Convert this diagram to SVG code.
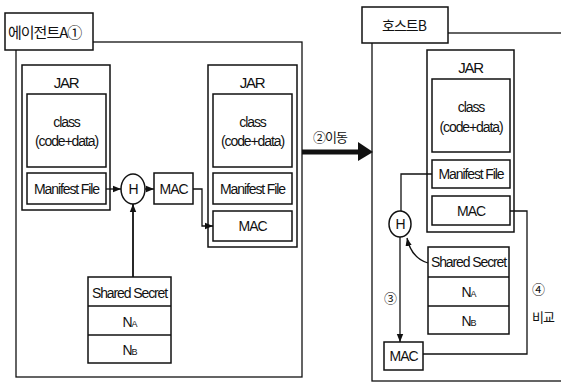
<svg xmlns="http://www.w3.org/2000/svg" width="561" height="385" viewBox="0 0 561 385">
<defs>
<marker id="ah" viewBox="0 0 10 10" refX="10" refY="5" markerWidth="8" markerHeight="8" markerUnits="userSpaceOnUse" orient="auto"><path d="M0,1 L10,5 L0,9 z" fill="#111"/></marker>
</defs>
<style>
.bx{fill:#fff;stroke:#111;stroke-width:1.5}
.fr{fill:none;stroke:#111;stroke-width:1.3}
.t{font-family:"Liberation Sans",Arial,sans-serif;font-size:14px;letter-spacing:-1.1px;fill:#111;text-anchor:middle}
.j{font-family:"Liberation Sans",Arial,sans-serif;font-size:15px;letter-spacing:-1.2px;fill:#111;text-anchor:middle}
.k{font-family:"Noto Sans CJK KR",sans-serif;font-size:14px;letter-spacing:-1px;fill:#111}
.ln{fill:none;stroke:#111;stroke-width:1.3}
.sub{font-size:9px}
</style>
<rect width="561" height="385" fill="#fff"/>

<g id="agentA">
<rect class="fr" x="16" y="42" width="286" height="335"/>
<rect class="bx" x="5" y="13" width="88" height="37"/>
<text class="k" x="8" y="38" style="font-size:15px">에이전트A①</text>
</g>

<g id="jarA1">
<rect class="bx" x="22" y="65" width="88" height="145"/>
<text class="j" x="66" y="88">JAR</text>
<rect class="bx" x="27" y="94" width="79" height="73"/>
<text class="t" x="66.5" y="127">class</text>
<text class="t" x="66.5" y="146">(code+data)</text>
<rect class="bx" x="27" y="173" width="79" height="31"/>
<text class="t" x="66.5" y="194">Manifest File</text>
</g>

<g id="hashA">
<ellipse class="bx" cx="133" cy="189" rx="12" ry="15"/>
<text class="t" x="133" y="194">H</text>
</g>

<g id="macA">
<rect class="bx" x="154" y="173" width="39" height="31"/>
<text class="t" x="173.5" y="194">MAC</text>
</g>

<g id="jarA2">
<rect class="bx" x="208" y="65" width="89" height="182"/>
<text class="j" x="252" y="88">JAR</text>
<rect class="bx" x="213" y="94" width="79" height="73"/>
<text class="t" x="252.5" y="127">class</text>
<text class="t" x="252.5" y="146">(code+data)</text>
<rect class="bx" x="213" y="173" width="79" height="31"/>
<text class="t" x="252.5" y="194">Manifest File</text>
<rect class="bx" x="213" y="211" width="79" height="30"/>
<text class="t" x="252.5" y="231">MAC</text>
</g>

<g id="secretA">
<rect class="bx" x="88" y="277" width="83" height="86"/>
<line class="ln" x1="88" y1="306" x2="171" y2="306"/>
<line class="ln" x1="88" y1="335" x2="171" y2="335"/>
<text class="t" x="129.5" y="298">Shared Secret</text>
<text class="t" x="129.5" y="327">N<tspan class="sub">A</tspan></text>
<text class="t" x="129.5" y="355">N<tspan class="sub">B</tspan></text>
</g>

<g id="hostB">
<rect class="fr" x="372" y="33" width="200" height="348"/>
<rect class="bx" x="362" y="7" width="86" height="36"/>
<text class="k" x="382" y="31">호스트B</text>
</g>

<g id="jarB">
<rect class="bx" x="427" y="50" width="87" height="182"/>
<text class="j" x="470.5" y="73">JAR</text>
<rect class="bx" x="432" y="79" width="78" height="73"/>
<text class="t" x="471" y="112">class</text>
<text class="t" x="471" y="132">(code+data)</text>
<rect class="bx" x="432" y="160" width="78" height="28"/>
<text class="t" x="471" y="179">Manifest File</text>
<rect class="bx" x="432" y="196" width="78" height="29"/>
<text class="t" x="471" y="216">MAC</text>
</g>

<g id="hashB">
<ellipse class="bx" cx="400" cy="224" rx="11" ry="13"/>
<text class="t" x="400" y="229">H</text>
</g>

<g id="secretB">
<rect class="bx" x="428" y="247" width="81" height="87"/>
<line class="ln" x1="428" y1="277" x2="509" y2="277"/>
<line class="ln" x1="428" y1="306" x2="509" y2="306"/>
<text class="t" x="468.5" y="267">Shared Secret</text>
<text class="t" x="468.5" y="297">N<tspan class="sub">A</tspan></text>
<text class="t" x="468.5" y="326">N<tspan class="sub">B</tspan></text>
</g>

<g id="macB">
<rect class="bx" x="384" y="342" width="39" height="28"/>
<text class="t" x="403.5" y="361">MAC</text>
</g>

<g id="connectors">
<line class="ln" x1="106" y1="189" x2="121" y2="189" marker-end="url(#ah)"/>
<line class="ln" x1="145" y1="189" x2="154" y2="189" marker-end="url(#ah)"/>
<path class="ln" d="M193,189 H202 V226 H213" marker-end="url(#ah)"/>
<path class="ln" d="M133,277 V204" marker-end="url(#ah)" style="stroke-width:1.8"/>
<line x1="302" y1="152" x2="360" y2="152" stroke="#111" stroke-width="5"/>
<polygon points="358,142 373,152 358,161" fill="#111"/>
<text class="k" x="313" y="142" style="font-size:13px">②이동</text>
<path class="ln" d="M432,174 H401 V211"/>
<path class="ln" d="M428,263 C418,260 410,252 407,238" marker-end="url(#ah)"/>
<path class="ln" d="M400,237 V342" marker-end="url(#ah)"/>
<path class="ln" d="M510,211 H527 V354 H423"/>
<text class="k" x="384" y="303" style="font-size:13px">③</text>
<text class="k" x="532" y="294" style="font-size:13px">④</text>
<text class="k" x="532" y="322" style="font-size:13px">비교</text>
</g>
</svg>
